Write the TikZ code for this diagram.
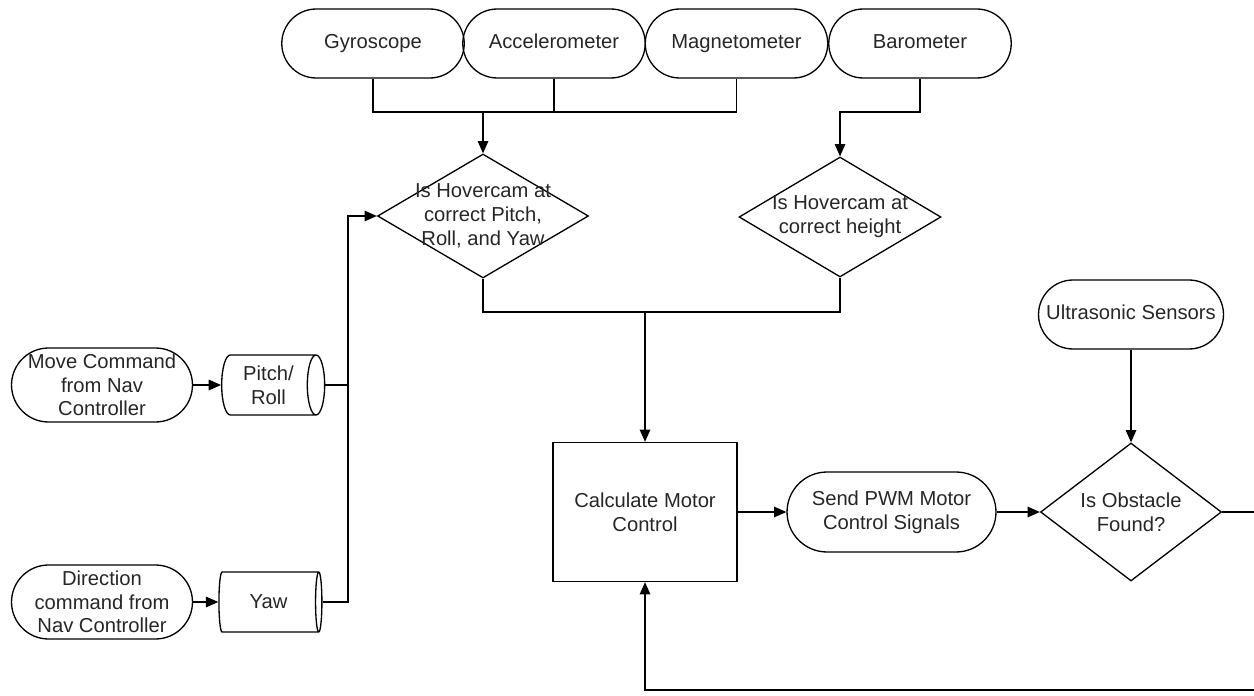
\documentclass[tikz,border=0pt]{standalone}
\usepackage{fontspec}
\setmainfont{Liberation Sans}
\usetikzlibrary{shapes.geometric, arrows.meta}

\begin{document}
\begin{tikzpicture}[x=0.02cm, y=0.02cm, yscale=-1,
    font=\fontsize{11.5}{13.5}\selectfont, text=black!85, line width=0.75pt,
    >={Triangle[length=7pt, width=6pt]},
    term/.style={draw, rectangle, rounded corners=0.69cm, minimum width=3.65cm, minimum height=1.38cm, inner sep=0pt, align=center},
    sensor/.style={term, text height=1.6ex, text depth=.45ex},
    decide/.style={draw, diamond, inner sep=0pt},
    proc/.style={draw, rectangle, minimum width=3.68cm, minimum height=2.78cm, align=center},
    store/.style={draw, cylinder, shape aspect=0.45, minimum width=1.2cm, minimum height=2.06cm, inner sep=0pt, align=center}]
    \useasboundingbox (0,0) rectangle (1254,696);

    % sensors on top
    \node [sensor] (gyro) at (373,43.5) {Gyroscope};
    \node [sensor] (acc) at (554,43.5) {Accelerometer};
    \node [sensor] (mag) at (736.5,43.5) {Magnetometer};
    \node [sensor] (baro) at (920,43.5) {Barometer};

    \node [decide, minimum width=4.22cm, minimum height=2.48cm, label={[align=center]center:Is Hovercam at\\correct Pitch,\\Roll, and Yaw}] (attitude) at (483,216) {};
    \node [decide, minimum width=4.04cm, minimum height=2.4cm, label={[align=center]center:Is Hovercam at\\correct height}] (height) at (840,217) {};

    % commands from the nav controller
    \node [term, minimum width=3.62cm, minimum height=1.48cm, rounded corners=0.74cm] (move) at (102,385) {Move Command\\from Nav\\Controller};
    \node [term, minimum width=3.62cm, minimum height=1.48cm, rounded corners=0.74cm] (direction) at (102,602) {Direction\\command from\\Nav Controller};
    \node [store] (pitchroll) at (268.5,385) {Pitch/\\Roll};
    \node [store] (yaw) at (268.5,602) {Yaw};

    \node [proc] (calc) at (645,512) {Calculate Motor\\Control};
    \node [term, minimum width=4.18cm, minimum height=1.6cm, rounded corners=0.8cm] (pwm) at (891.5,512) {Send PWM Motor\\Control Signals};
    \node [decide, minimum width=3.62cm, minimum height=2.76cm, label={[align=center]center:Is Obstacle\\Found?}] (obstacle) at (1131,512) {};
    \node [sensor, minimum width=3.7cm] (ultra) at (1131,314.5) {Ultrasonic Sensors};

    \coordinate (sensjoin) at (483,112);
    \coordinate (mergejoin) at (645,312);
    \coordinate (cmdbus) at (348,216);
    \coordinate (loopturn) at (1280,690);

    \draw (gyro.south) |- (mag.south |- sensjoin) -- (mag.south);
    \draw (acc.south) -- (acc.south |- sensjoin);
    \draw [->] (sensjoin) -- (attitude.north);
    \draw [->] (baro.south) |- (height.north |- sensjoin) -- (height.north);

    \draw (attitude.south) |- (height.south |- mergejoin) -- (height.south);
    \draw [->] (mergejoin) -- (calc.north);

    \draw [->] (move) -- (pitchroll);
    \draw [->] (direction) -- (yaw);
    \draw (pitchroll.east) -- (pitchroll.east -| cmdbus);
    \draw [->] (yaw.east) -| (cmdbus) -- (attitude.west);

    \draw [->] (calc) -- (pwm);
    \draw [->] (pwm) -- (obstacle);
    \draw [->] (ultra) -- (obstacle);
    \draw [->] (obstacle.east) -| (loopturn) -| (calc.south);
\end{tikzpicture}
\end{document}
